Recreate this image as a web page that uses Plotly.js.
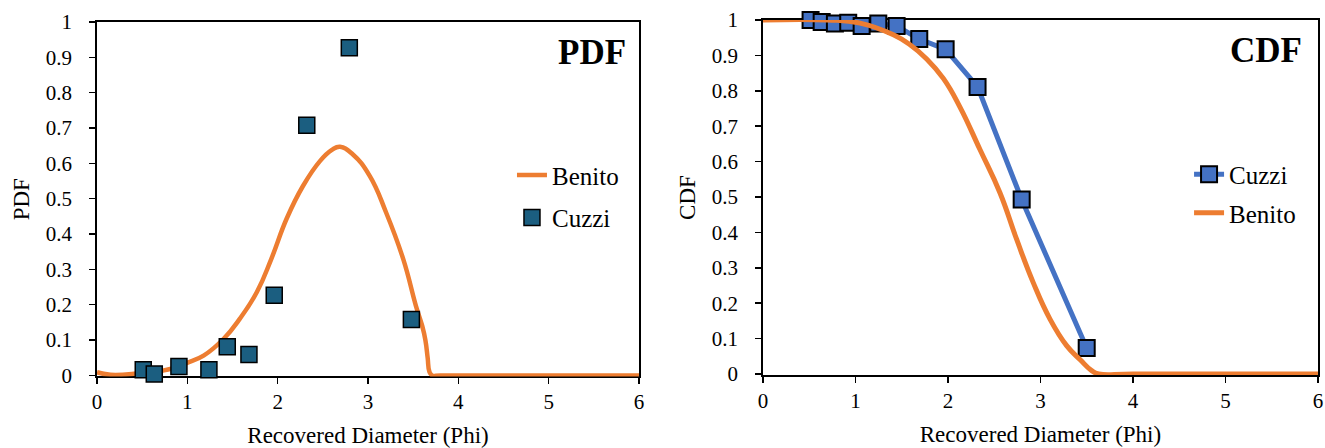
<!DOCTYPE html>
<html>
<head>
<meta charset="utf-8">
<script src="https://cdn.plot.ly/plotly-3.0.1.min.js"></script>
<style>html,body{margin:0;padding:0;background:#fff;}#chart{width:1325px;height:448px;}</style>
</head>
<body>
<div id="chart"></div>
<script>
// ---- PDF panel data ----
const pdfBenitoX = [0, 0.15, 0.47, 0.66, 0.88, 0.99, 1.18, 1.4, 1.58, 1.77, 1.93, 2.1, 2.28, 2.47, 2.6, 2.69, 2.83, 3.02, 3.2, 3.39, 3.53, 3.6, 3.635, 3.66, 3.68, 3.71, 3.8, 4.5, 6];
const pdfBenitoY = [0.009, 0.002, 0.006, 0.011, 0.023, 0.035, 0.056, 0.103, 0.16, 0.236, 0.33, 0.444, 0.536, 0.607, 0.638, 0.647, 0.626, 0.564, 0.461, 0.329, 0.197, 0.14, 0.1, 0.05, 0.01, 0, 0, 0, 0];
const pdfCuzziX = [0.512, 0.634, 0.907, 1.239, 1.442, 1.682, 1.962, 2.322, 2.793, 3.48];
const pdfCuzziY = [0.016, 0.004, 0.025, 0.016, 0.081, 0.059, 0.227, 0.708, 0.927, 0.158];

// ---- CDF panel data ----
const cdfCuzziX = [0.515, 0.635, 0.778, 0.922, 1.067, 1.247, 1.445, 1.69, 1.975, 2.32, 2.797, 3.50];
const cdfCuzziY = [1.0, 0.994, 0.99, 0.992, 0.983, 0.99, 0.983, 0.946, 0.917, 0.811, 0.493, 0.073];
const cdfBenitoX = [0, 0.7, 1.05, 1.41, 1.59, 1.77, 1.95, 2.13, 2.346, 2.562, 2.743, 2.922, 3.103, 3.283, 3.43, 3.55, 3.63, 4, 6];
const cdfBenitoY = [1, 1, 0.991, 0.958, 0.93, 0.89, 0.835, 0.754, 0.634, 0.512, 0.38, 0.258, 0.155, 0.08, 0.04, 0.01, 0, 0, 0];

const xTickVals = [0, 1, 2, 3, 4, 5, 6];
const yTickVals = [0, 0.1, 0.2, 0.3, 0.4, 0.5, 0.6, 0.7, 0.8, 0.9, 1];
const yTickText = ['0', '0.1', '0.2', '0.3', '0.4', '0.5', '0.6', '0.7', '0.8', '0.9', '1'];

const ORANGE = '#ED7D31';
const TEAL = '#1B5E80';
const BLUE = '#4472C4';
const FONT = 'Liberation Serif';

const traces = [
  {x: pdfBenitoX, y: pdfBenitoY, name: 'Benito', mode: 'lines', type: 'scatter',
   line: {color: ORANGE, width: 4.5, shape: 'spline', smoothing: 1.3},
   xaxis: 'x', yaxis: 'y', legend: 'legend', legendgroup: 'a'},
  {x: pdfCuzziX, y: pdfCuzziY, name: 'Cuzzi', mode: 'markers', type: 'scatter',
   marker: {symbol: 'square', size: 16, color: TEAL, line: {color: '#000', width: 1.5}},
   cliponaxis: false, xaxis: 'x', yaxis: 'y', legend: 'legend', legendgroup: 'b'},
  {x: cdfCuzziX, y: cdfCuzziY, name: 'Cuzzi', mode: 'lines+markers', type: 'scatter',
   line: {color: BLUE, width: 5},
   marker: {symbol: 'square', size: 16, color: BLUE, line: {color: '#000', width: 2}},
   cliponaxis: false, xaxis: 'x2', yaxis: 'y2', legend: 'legend2', legendgroup: 'c'},
  {x: cdfBenitoX, y: cdfBenitoY, name: 'Benito', mode: 'lines', type: 'scatter',
   line: {color: ORANGE, width: 5, shape: 'spline', smoothing: 1.3},
   xaxis: 'x2', yaxis: 'y2', legend: 'legend2', legendgroup: 'd'}
];

function xax(domain, anchor) {
  return {domain: domain, anchor: anchor, range: [0, 6], tickvals: xTickVals,
    showline: true, linecolor: '#000', linewidth: 1.8, mirror: true,
    ticks: 'outside', ticklen: 6, tickwidth: 1.5, tickcolor: '#000',
    showgrid: false, zeroline: false, layer: 'below traces',
    tickfont: {family: FONT, size: 21, color: '#000'}, ticklabelstandoff: 0,
    title: {text: 'Recovered Diameter (Phi)', font: {family: FONT, size: 23, color: '#000'}, standoff: 14}};
}
function yax(domain, anchor, t) {
  return {domain: domain, anchor: anchor, range: [-0.003, 1], tickvals: yTickVals, ticktext: yTickText,
    showline: true, linecolor: '#000', linewidth: 1.8, mirror: true,
    ticks: 'outside', ticklen: 6, tickwidth: 1.5, tickcolor: '#000',
    showgrid: false, zeroline: false, layer: 'below traces',
    tickfont: {family: FONT, size: 21, color: '#000'}, ticklabelstandoff: 13,
    title: {text: t, font: {family: FONT, size: 23, color: '#000'}, standoff: 10}};
}

const layout = {
  width: 1325, height: 448,
  margin: {l: 0, r: 0, t: 0, b: 0},
  paper_bgcolor: '#fff', plot_bgcolor: '#fff',
  font: {family: FONT, color: '#000'},
  xaxis: xax([0.0732, 0.4823], 'y'),
  yaxis: yax([0.1596, 0.9509], 'x', 'PDF'),
  xaxis2: xax([0.5758, 0.9947], 'y2'),
  yaxis2: yax([0.1629, 0.9554], 'x2', 'CDF'),
  legend: {x: 0.3864, y: 0.562, xanchor: 'left', yanchor: 'middle', bgcolor: 'rgba(0,0,0,0)',
    tracegroupgap: 7, font: {family: FONT, size: 25, color: '#000'}},
  legend2: {x: 0.8974, y: 0.568, xanchor: 'left', yanchor: 'middle', bgcolor: 'rgba(0,0,0,0)',
    tracegroupgap: 3, font: {family: FONT, size: 25, color: '#000'}},
  annotations: [
    {text: '<b>PDF</b>', xref: 'paper', yref: 'paper', x: 592 / 1325, y: 1 - 52 / 448,
     xanchor: 'center', yanchor: 'middle', showarrow: false, font: {family: FONT, size: 35, color: '#000'}},
    {text: '<b>CDF</b>', xref: 'paper', yref: 'paper', x: 1266 / 1325, y: 1 - 50 / 448,
     xanchor: 'center', yanchor: 'middle', showarrow: false, font: {family: FONT, size: 35, color: '#000'}}
  ],
  showlegend: true
};

Plotly.newPlot('chart', traces, layout, {displayModeBar: false, staticPlot: true});
</script>
</body>
</html>
